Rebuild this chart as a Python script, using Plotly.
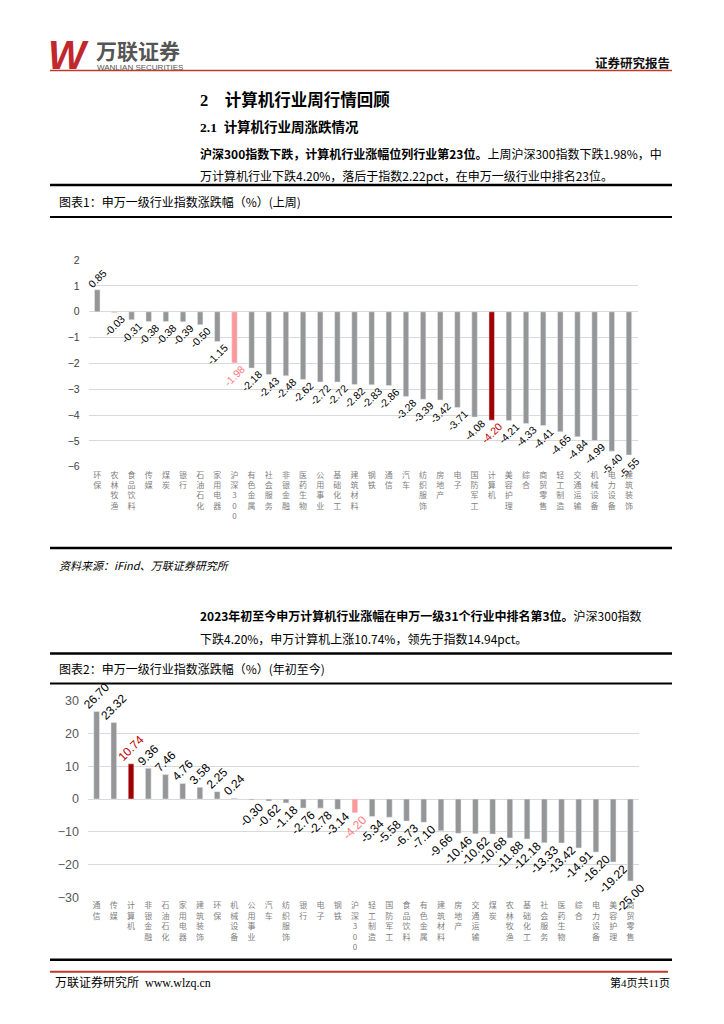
import plotly.graph_objects as go

# ---------------- data ----------------
week_cats = ["环保", "农林牧渔", "食品饮料", "传媒", "煤炭", "银行", "石油石化", "家用电器",
             "沪深300", "有色金属", "社会服务", "非银金融", "医药生物", "公用事业", "基础化工",
             "建筑材料", "钢铁", "通信", "汽车", "纺织服饰", "房地产", "电子", "国防军工",
             "计算机", "美容护理", "综合", "商贸零售", "轻工制造", "交通运输", "机械设备",
             "电力设备", "建筑装饰"]
week_vals = [0.85, -0.03, -0.31, -0.38, -0.38, -0.39, -0.50, -1.15,
             -1.98, -2.18, -2.43, -2.48, -2.62, -2.72, -2.72,
             -2.82, -2.83, -2.86, -3.28, -3.39, -3.42, -3.71, -4.08,
             -4.20, -4.21, -4.33, -4.41, -4.65, -4.84, -4.99,
             -5.40, -5.55]

ytd_cats = ["通信", "传媒", "计算机", "非银金融", "石油石化", "家用电器", "建筑装饰", "环保",
            "机械设备", "公用事业", "汽车", "纺织服饰", "银行", "电子", "钢铁", "沪深300",
            "轻工制造", "国防军工", "食品饮料", "有色金属", "建筑材料", "房地产", "交通运输",
            "煤炭", "农林牧渔", "基础化工", "社会服务", "医药生物", "综合", "电力设备",
            "美容护理", "商贸零售"]
ytd_vals = [26.70, 23.32, 10.74, 9.36, 7.46, 4.76, 3.58, 2.25,
            0.24, -0.30, -0.62, -1.18, -2.76, -2.78, -3.14, -4.20,
            -5.34, -5.58, -6.73, -7.10, -9.66, -10.46, -10.62,
            -10.68, -11.88, -12.18, -13.33, -13.42, -14.91, -16.20,
            -19.22, -25.00]

week_ticks = [-6, -5, -4, -3, -2, -1, 0, 1, 2]
ytd_ticks = [-30, -20, -10, 0, 10, 20, 30]

# ---------------- style ----------------
W, H = 724, 1024
GRAY = "#969696"
RED = "#A00000"
PINK = "#FF9999"
CJK = "Noto Sans CJK SC"
SERIF = "Liberation Serif, Noto Sans CJK SC"
SANS = "Liberation Sans, Arial, Noto Sans CJK SC"


def px(x):
    return x / W


def py(y):
    return 1 - y / H


def bar_colors(cats):
    return [RED if c == "计算机" else PINK if c == "沪深300" else GRAY for c in cats]


def text_colors(cats):
    return ["#C00000" if c == "计算机" else "#FF7C80" if c == "沪深300" else "#000000" for c in cats]


def vert(c):
    if c == "沪深300":
        return "沪<br>深<br>3<br>0<br>0"
    return "<br>".join(c)


fig = go.Figure()

fig.add_trace(go.Bar(
    x=week_cats, y=week_vals, marker_color=bar_colors(week_cats), width=0.32,
    texttemplate="%{y:.2f}", textposition="outside", textangle=-45,
    textfont=dict(size=10.5, color=text_colors(week_cats), family=SANS),
    cliponaxis=False, constraintext="none", xaxis="x", yaxis="y", hoverinfo="skip"))

fig.add_trace(go.Bar(
    x=ytd_cats, y=ytd_vals, marker_color=bar_colors(ytd_cats), width=0.33,
    texttemplate="%{y:.2f}", textposition="outside", textangle=-45,
    textfont=dict(size=12, color=text_colors(ytd_cats), family=SANS),
    cliponaxis=False, constraintext="none", xaxis="x2", yaxis="y2", hoverinfo="skip"))

xcommon = dict(showgrid=False, showline=False, zeroline=False, ticks="", tickangle=0,
               tickfont=dict(size=8, color="#808080", family=CJK), fixedrange=True)

fig.update_layout(
    width=W, height=H, margin=dict(l=0, r=0, t=0, b=0),
    paper_bgcolor="white", plot_bgcolor="white", showlegend=False,
    xaxis=dict(domain=[px(88.7), px(637.5)], anchor="y",
               tickmode="array", tickvals=week_cats, ticktext=[vert(c) for c in week_cats],
               ticklabelstandoff=2, **xcommon),
    yaxis=dict(domain=[py(466), py(256.7)], anchor="x", range=[-6, 2],
               tickmode="array", tickvals=week_ticks,
               showgrid=True, gridcolor="#D9D9D9", gridwidth=1, zeroline=False,
               showline=False, ticks="", ticklabelstandoff=8,
               tickfont=dict(size=10.5, color="#404040", family=SANS)),
    xaxis2=dict(domain=[px(88.0), px(639.0)], anchor="y2",
                tickmode="array", tickvals=ytd_cats, ticktext=[vert(c) for c in ytd_cats],
                ticklabelstandoff=2, **xcommon),
    yaxis2=dict(domain=[py(902.7), py(703.3)], anchor="x2", range=[-30, 30],
                tickmode="array", tickvals=ytd_ticks,
                showgrid=True, gridcolor="#D9D9D9", gridwidth=1, zeroline=False,
                showline=False, ticks="", ticklabelstandoff=8,
                tickfont=dict(size=12.5, color="#595959", family=SANS)),
)

# ---------------- page decoration ----------------
def hline(y, x0, x1, color, width):
    fig.add_shape(type="line", xref="paper", yref="paper",
                  x0=px(x0), x1=px(x1), y0=py(y), y1=py(y),
                  line=dict(color=color, width=width))


hline(64.5, 50, 672, "#C0392B", 1.5)
hline(180.5, 50, 672, "#000000", 2.5)
hline(213, 50, 672, "#000000", 2)
hline(548.5, 50, 672, "#000000", 2.5)
hline(655.5, 50, 672, "#000000", 2.5)
hline(686, 50, 672, "#000000", 2)
hline(966, 50, 672, "#000000", 2.5)
hline(978, 50, 668, "#C0392B", 2)


def note(text, x, y, size, color="#000000", family=CJK, xanchor="left", yanchor="middle"):
    fig.add_annotation(text=text, x=px(x), y=py(y), xref="paper", yref="paper",
                       xanchor=xanchor, yanchor=yanchor, showarrow=False,
                       font=dict(size=size, color=color, family=family))


note("<b><i>W</i></b>", 46, 49, 40, "#C1272D", SANS)
note("<b>万联证券</b>", 94, 44, 21, "#555555", CJK)
note("WANLIAN SECURITIES", 95, 61, 8, "#555555", SANS)
note("<b>证券研究报告</b>", 672, 56, 12.5, "#111111", CJK, xanchor="right")

note("<b>2    计算机行业周行情回顾</b>", 198, 94, 16.5, "#000000", SERIF)
note("<b>2.1  计算机行业周涨跌情况</b>", 198, 122, 13.5, "#000000", SERIF)
note("<b>沪深300指数下跌，计算机行业涨幅位列行业第23位。</b>上周沪深300指数下跌1.98%，中",
     198, 149, 12, "#000000", CJK)
note("万计算机行业下跌4.20%，落后于指数2.22pct，在申万一级行业中排名23位。",
     198, 171, 12, "#000000", CJK)
note("图表1：申万一级行业指数涨跌幅（%）(上周)", 57, 197, 12, "#000000", CJK)
note("<i>资料来源：iFind、万联证券研究所</i>", 57, 566, 11, "#000000", CJK)

note("<b>2023年初至今申万计算机行业涨幅在申万一级31个行业中排名第3位。</b>沪深300指数",
     198, 617, 12, "#000000", CJK)
note("下跌4.20%，申万计算机上涨10.74%，领先于指数14.94pct。",
     198, 640, 12, "#000000", CJK)
note("图表2：申万一级行业指数涨跌幅（%）(年初至今)", 57, 671, 12, "#000000", CJK)

note("万联证券研究所  www.wlzq.cn", 53, 989, 12, "#000000", SERIF)
note("第4页共11页", 672, 989, 11, "#000000", SERIF, xanchor="right")

fig.write_html("out.html", config={"displayModeBar": False},
               post_script="document.body.style.margin='0';")
